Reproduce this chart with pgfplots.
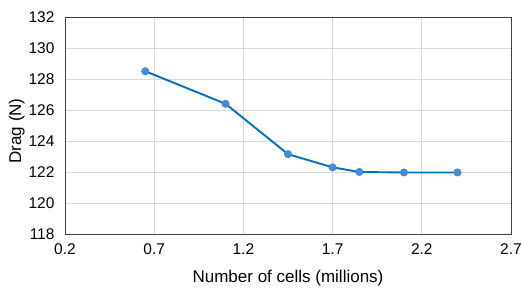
\documentclass[border=0pt]{standalone}
\usepackage{pgfplots}
\pgfplotsset{compat=1.18}
\usepackage{fontspec}
\setmainfont{Liberation Sans}
\definecolor{linec}{RGB}{0,112,192}
\definecolor{markc}{RGB}{68,140,212}
\definecolor{gridc}{RGB}{217,217,217}
\begin{document}
\begin{tikzpicture}[x=1pt,y=1pt]
\path[use as bounding box] (-65,-54) rectangle (457,234);
\begin{axis}[
  at={(0,0)}, anchor=south west,
  scale only axis, width=446pt, height=217pt,
  xmin=0.2, xmax=2.7, ymin=118, ymax=132,
  xtick={0.2,0.7,...,2.7}, ytick={118,120,...,132},
  xticklabels={0.2,0.7,1.2,1.7,2.2,2.7},
  /pgf/number format/assume math mode=true,
  font=\fontsize{15.5}{17}\selectfont,
  grid=major, major grid style={gridc, line width=0.9pt},
  axis line style={black!75, line width=0.9pt},
  tick style={draw=none},
  xticklabel style={yshift=-6pt},
  yticklabel style={xshift=-7pt},
  xlabel={Number of cells (millions)},
  ylabel={Drag (N)},
  label style={font=\fontsize{17}{19}\selectfont},
  xlabel style={at={(axis description cs:0.5,0)}, anchor=center, yshift=-44pt},
  ylabel style={at={(axis description cs:-0.108,0.475)}, anchor=center},
]
\addplot[linec, line width=1.9pt, mark=*, mark size=3.6pt, mark options={fill=markc, draw=markc, line width=0.8pt}]
coordinates {(0.65,128.5) (1.1,126.4) (1.45,123.15) (1.7,122.3) (1.85,122.0) (2.1,121.97) (2.4,121.97)};
\end{axis}
\end{tikzpicture}
\end{document}
